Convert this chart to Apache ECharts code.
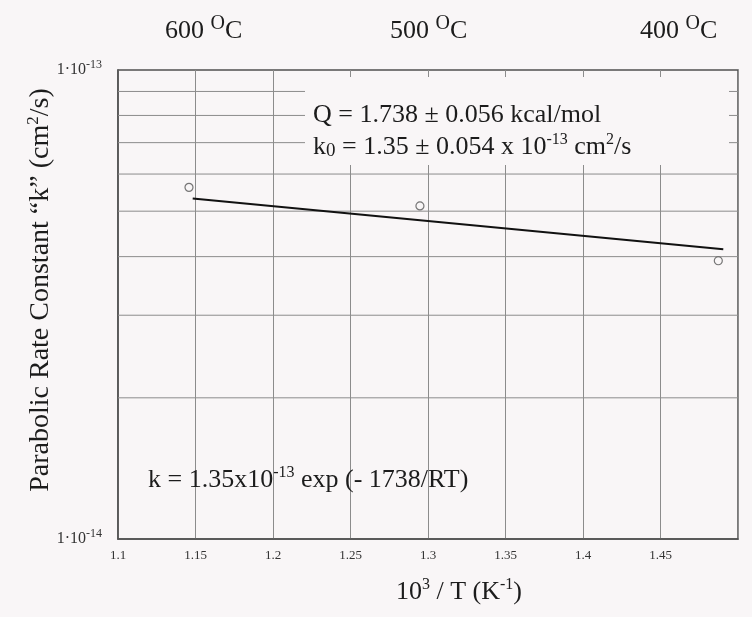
<!DOCTYPE html>
<html><head><meta charset="utf-8">
<script src="https://cdn.jsdelivr.net/npm/echarts@6/dist/echarts.min.js"></script>
<style>html,body{margin:0;padding:0;background:#f9f6f7}#c{width:752px;height:617px}</style>
</head><body><div id="c"></div>
<script>
// ---- data ----
const xMin = 1.1, xMax = 1.5, xStep = 0.05;
const yMin = 1e-14, yMax = 1e-13;
const invT = [1.1458, 1.2948, 1.4873];          // 10^3/T (K^-1)
const kMeasured = [5.62e-14, 5.13e-14, 3.92e-14]; // cm^2/s
const fitX = [1.1482, 1.4905];
const fitK = [5.32e-14, 4.15e-14];
const minorGridK = [2e-14, 3e-14, 4e-14, 5e-14, 6e-14, 7e-14, 8e-14, 9e-14];
const tempLabels = ['600', '500', '400'];

const SERIF = '"Liberation Serif","Times New Roman",serif';
const TXT = '#1c1c1c';
const BIG = 26;
const bg = '#f9f6f7';

function rich(size, supScale) {
  supScale = supScale || 0.6;
  return {
    t:   { fontFamily: SERIF, fontSize: size, color: TXT },
    sup: { fontFamily: SERIF, fontSize: Math.round(size * supScale), color: TXT, padding: [0, 0, Math.round(size * 0.55), 0] },
    sub: { fontFamily: SERIF, fontSize: Math.round(size * 0.72), color: TXT, padding: [Math.round(size * 0.35), 0, 0, 0] }
  };
}
function txt(x, y, text, opts) {
  opts = opts || {};
  const size = opts.size || BIG;
  return {
    type: 'text', x: x, y: y, rotation: opts.rotation || 0, z: 100,
    style: {
      text: text, rich: rich(size, opts.supScale),
      fill: TXT, font: size + 'px ' + SERIF,
      align: opts.align || 'left', textAlign: opts.align || 'left',
      verticalAlign: 'middle', textVerticalAlign: 'middle'
    }
  };
}

const gridSeries = minorGridK.map(v => ({
  type: 'line', silent: true, z: 1, symbol: 'none', showSymbol: false,
  lineStyle: { color: '#8c8c8c', width: 1 },
  emphasis: { disabled: true }, tooltip: { show: false },
  data: [[xMin, v], [xMax, v]]
}));

const chart = echarts.init(document.getElementById('c'));
chart.setOption({
  backgroundColor: bg,
  animation: false,
  grid: { left: 118, right: 14, top: 70, bottom: 78, show: true, borderColor: '#505050', borderWidth: 1.5, backgroundColor: 'transparent' },
  xAxis: {
    type: 'value', min: xMin, max: xMax, interval: xStep,
    axisLine: { show: true, lineStyle: { color: '#505050', width: 1.5 } },
    axisTick: { show: false },
    splitLine: { show: true, lineStyle: { color: '#8c8c8c', width: 1 } },
    axisLabel: {
      margin: 10, color: '#333', fontFamily: SERIF, fontSize: 13,
      formatter: v => (Math.abs(v - xMax) < 1e-9 ? '' : String(Math.round(v * 100) / 100))
    }
  },
  yAxis: {
    type: 'log', logBase: 10, min: yMin, max: yMax,
    axisLine: { show: true, lineStyle: { color: '#505050', width: 1.5 } },
    axisTick: { show: false },
    splitLine: { show: false },
    axisLabel: {
      margin: 16, color: '#333',
      formatter: v => '{b|1·10}{s|' + Math.round(Math.log10(v)) + '}',
      rich: {
        b: { fontFamily: SERIF, fontSize: 16, color: '#333' },
        s: { fontFamily: SERIF, fontSize: 12, color: '#333', padding: [0, 0, 11, 0] }
      }
    }
  },
  series: gridSeries.concat([
    {
      name: 'fit', type: 'line', z: 3, showSymbol: false, symbol: 'none',
      lineStyle: { color: '#111', width: 2 },
      data: fitX.map((x, i) => [x, fitK[i]])
    },
    {
      name: 'measured', type: 'scatter', z: 4, symbol: 'circle', symbolSize: 8,
      itemStyle: { color: 'rgba(0,0,0,0)', borderColor: '#555', borderWidth: 1.2 },
      data: invT.map((x, i) => [x, kMeasured[i]])
    }
  ]),
  graphic: [
    { type: 'rect', z: 90, shape: { x: 305, y: 77, width: 424, height: 88 }, style: { fill: bg } },
    txt(313, 115, 'Q = 1.738 ± 0.056 kcal/mol'),
    txt(313, 147, '{t|k}{sub|0}{t| = 1.35 ± 0.054 x 10}{sup|-13}{t| cm}{sup|2}{t|/s}'),
    txt(148, 480, '{t|k = 1.35x10}{sup|-13}{t| exp (- 1738/RT)}'),
    txt(165, 31, '{t|' + tempLabels[0] + ' }{sup|O}{t|C}', { supScale: 0.75 }),
    txt(390, 31, '{t|' + tempLabels[1] + ' }{sup|O}{t|C}', { supScale: 0.75 }),
    txt(640, 31, '{t|' + tempLabels[2] + ' }{sup|O}{t|C}', { supScale: 0.75 }),
    txt(459, 592, '{t|10}{sup|3}{t| / T (K}{sup|-1}{t|)}', { align: 'center' }),
    txt(41, 290, '{t|Parabolic Rate Constant “k” (cm}{sup|2}{t|/s)}', { align: 'center', rotation: Math.PI / 2, size: 28 })
  ]
});
</script></body></html>
